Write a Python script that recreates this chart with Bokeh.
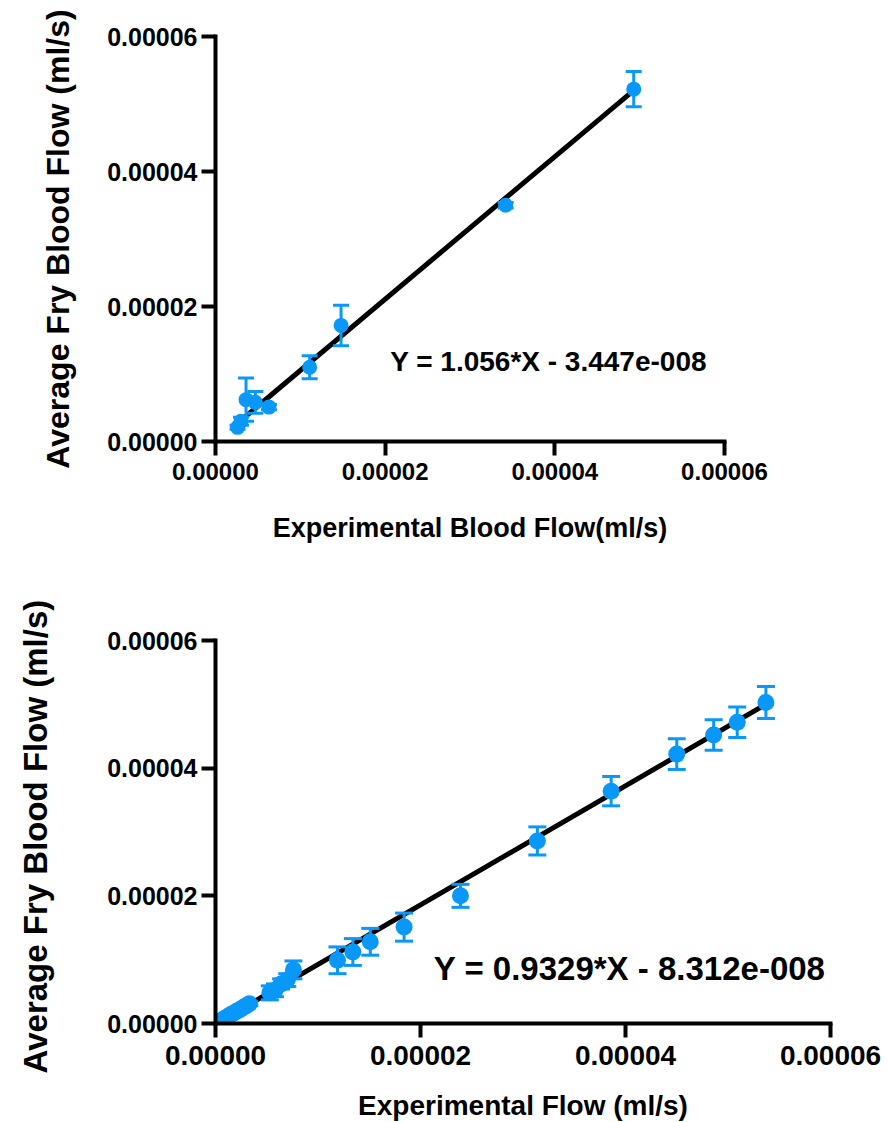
import numpy as np
from bokeh.plotting import figure
from bokeh.models import (Range1d, FixedTicker, PrintfTickFormatter, Whisker, TeeHead,
                          ColumnDataSource, Label)
from bokeh.layouts import column
from bokeh.embed import file_html
from bokeh.resources import INLINE

SCALE = 1e-6  # values below are in 1e-6 ml/s

# ---- top panel data ----
top_x = [2.6, 3.0, 3.6, 4.7, 6.3, 11.1, 14.8, 34.2, 49.3]
top_y = [2.1, 3.0, 6.2, 5.8, 5.1, 11.0, 17.2, 35.0, 52.2]
top_err = [0.3, 0.6, 3.2, 1.6, 0.4, 1.7, 3.0, 0.4, 2.6]
top_slope = 1.056
top_intercept = -3.447e-8
top_equation = "Y = 1.056*X - 3.447e-008"
top_xlabel = "Experimental Blood Flow(ml/s)"
top_ylabel = "Average Fry Blood Flow (ml/s)"

# ---- bottom panel data ----
bot_x = [0.2, 0.45, 0.7, 0.95, 1.2, 1.5, 1.8, 2.1, 2.4, 2.7, 3.0, 3.3,
         5.3, 5.8, 6.4, 7.0, 7.6, 11.9, 13.4, 15.1, 18.4, 23.9, 31.4,
         38.6, 45.0, 48.6, 50.9, 53.7]
bot_y = [0.15, 0.4, 0.6, 0.85, 1.1, 1.4, 1.65, 1.95, 2.2, 2.5, 2.8, 3.1,
         4.8, 5.2, 6.2, 6.8, 8.4, 9.9, 11.2, 12.8, 15.1, 20.0, 28.6,
         36.4, 42.2, 45.2, 47.2, 50.3]
bot_err = [0.1, 0.1, 0.15, 0.15, 0.2, 0.2, 0.2, 0.25, 0.25, 0.3, 0.3, 0.3,
           1.1, 1.0, 0.8, 1.0, 1.4, 2.1, 2.1, 2.1, 2.2, 1.8, 2.2,
           2.3, 2.4, 2.4, 2.4, 2.5]
bot_slope = 0.9329
bot_intercept = -8.312e-8
bot_equation = "Y = 0.9329*X - 8.312e-008"
bot_xlabel = "Experimental Flow (ml/s)"
bot_ylabel = "Average Fry Blood Flow  (ml/s)"

axis_ticks = [0, 2e-5, 4e-5, 6e-5]

BLUE = "#0A98F8"
FONT = "Liberation Sans"


def make_panel(xs, ys, errs, slope, intercept, equation, xlabel, ylabel,
               frame_w, frame_h, left, right, top, bottom,
               xtick_size, ytick_size, xlabel_size, ylabel_size, eq_size,
               eq_pos, marker_size, cap_size, xlabel_standoff, ylabel_standoff,
               xtick_standoff):
    x = np.array(xs) * SCALE
    y = np.array(ys) * SCALE
    e = np.array(errs) * SCALE
    src = ColumnDataSource(dict(x=x, y=y, upper=y + e, lower=y - e))

    p = figure(frame_width=frame_w, frame_height=frame_h,
               min_border_left=left, min_border_right=right,
               min_border_top=top, min_border_bottom=bottom,
               x_range=Range1d(0, 6e-5), y_range=Range1d(0, 6e-5),
               output_backend="svg", toolbar_location=None,
               background_fill_color="white", border_fill_color="white")
    p.outline_line_color = None
    p.xgrid.visible = False
    p.ygrid.visible = False

    for ax in (p.xaxis[0], p.yaxis[0]):
        ax.ticker = FixedTicker(ticks=axis_ticks)
        ax.formatter = PrintfTickFormatter(format="%.5f")
        ax.axis_line_width = 4
        ax.axis_line_cap = "square"
        ax.major_tick_line_width = 4
        ax.major_tick_out = 14
        ax.major_tick_in = 0
        ax.minor_tick_line_color = None
        ax.major_label_text_font = FONT
        ax.major_label_text_font_style = "bold"
        ax.major_label_text_color = "black"
        ax.axis_label_text_font = FONT
        ax.axis_label_text_font_style = "bold"
        ax.axis_label_text_color = "black"
        ax.major_label_standoff = 4

    p.xaxis.major_label_standoff = xtick_standoff
    p.xaxis.axis_label = xlabel
    p.yaxis.axis_label = ylabel
    p.xaxis.major_label_text_font_size = xtick_size
    p.yaxis.major_label_text_font_size = ytick_size
    p.xaxis.axis_label_text_font_size = xlabel_size
    p.yaxis.axis_label_text_font_size = ylabel_size
    p.xaxis.axis_label_standoff = xlabel_standoff
    p.yaxis.axis_label_standoff = ylabel_standoff

    # regression line over the data range
    lx = np.array([x.min(), x.max()])
    ly = slope * lx + intercept
    p.line(lx, ly, line_color="black", line_width=5)

    p.add_layout(Whisker(source=src, base="x", upper="upper", lower="lower",
                         dimension="height", line_color=BLUE, line_width=3,
                         level="glyph",
                         upper_head=TeeHead(size=cap_size, line_color=BLUE, line_width=3),
                         lower_head=TeeHead(size=cap_size, line_color=BLUE, line_width=3)))
    p.scatter("x", "y", source=src, size=marker_size, fill_color=BLUE,
              line_color=BLUE, line_width=0)

    p.add_layout(Label(x=eq_pos[0] * SCALE, y=eq_pos[1] * SCALE, text=equation,
                       text_font=FONT, text_font_style="bold",
                       text_font_size=eq_size, text_color="black",
                       text_align="left", text_baseline="alphabetic"))
    return p


p1 = make_panel(top_x, top_y, top_err, top_slope, top_intercept, top_equation,
                top_xlabel, top_ylabel,
                frame_w=509, frame_h=405, left=211, right=168, top=36, bottom=124,
                xtick_size="24px", ytick_size="25px", xlabel_size="27px",
                ylabel_size="32px", eq_size="28px", eq_pos=(20.6, 11.8),
                marker_size=15, cap_size=16, xlabel_standoff=30, ylabel_standoff=28,
                xtick_standoff=7)

p2 = make_panel(bot_x, bot_y, bot_err, bot_slope, bot_intercept, bot_equation,
                bot_xlabel, bot_ylabel,
                frame_w=615, frame_h=383, left=215, right=58, top=75, bottom=99,
                xtick_size="28px", ytick_size="25px", xlabel_size="28px",
                ylabel_size="33px", eq_size="33px", eq_pos=(21.3, 8.6),
                marker_size=17, cap_size=18, xlabel_standoff=22, ylabel_standoff=50,
                xtick_standoff=8)

layout = column(p1, p2, spacing=0)

with open("out.html", "w") as f:
    f.write(file_html(layout, INLINE))
